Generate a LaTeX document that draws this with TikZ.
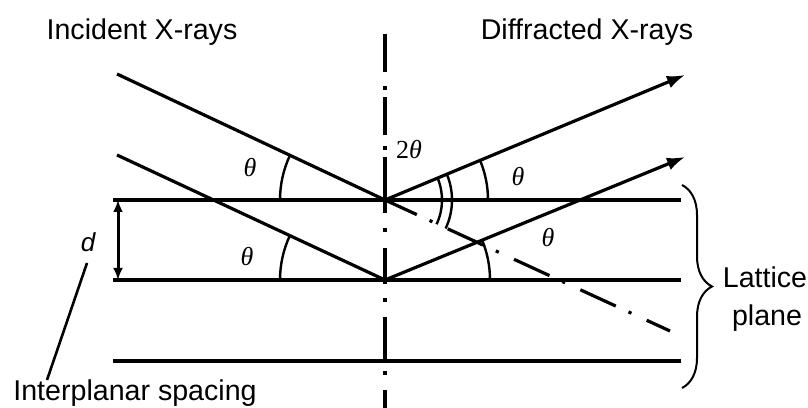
\documentclass[tikz,border=0pt]{standalone}
\usepackage{fontspec}
\setmainfont{Liberation Sans}
\newfontfamily\greekfont{Liberation Serif}
\usetikzlibrary{arrows.meta,decorations.pathreplacing}
\begin{document}
\begin{tikzpicture}[x=0.5bp,y=0.5bp,
  plane/.style={line width=1.6bp},
  ray/.style={line width=1.6bp},
  dray/.style={line width=1.6bp,-{Latex[length=9bp,width=6.5bp]}},
  anglearc/.style={line width=1.2bp},
  axisline/.style={line width=1.7bp,dash pattern=on 19bp off 7.25bp on 1.6bp off 3.65bp on 19bp off 5.75bp on 1.6bp off 3.65bp on 28bp off 7.75bp on 1.6bp off 8.15bp on 18bp off 7.25bp on 1.6bp off 7.65bp on 21.5bp off 5.75bp on 1.6bp off 7.65bp on 12bp},
  extline/.style={line width=1.6bp,dash pattern=on 19.5bp off 7bp on 1.6bp off 8.4bp,dash phase=2bp},
  lbl/.style={font=\fontsize{14.3bp}{16bp}\selectfont,inner sep=0pt},
  ang/.style={font=\fontsize{13bp}{15bp}\selectfont\greekfont\itshape,inner sep=0pt}]
\useasboundingbox (0,0) rectangle (808,408);
% key points
\coordinate (O1) at (385,208);
\coordinate (O2) at (385,128);
\coordinate (P1L) at (113,208); \coordinate (P1R) at (681,208);
\coordinate (P2L) at (113,128); \coordinate (P2R) at (681,128);
\coordinate (P3L) at (113,47);  \coordinate (P3R) at (681,47);
\coordinate (I1) at (117,334);
\coordinate (I2) at (117,253);
\coordinate (D1) at (685,333);
\coordinate (D2) at (685,251);
\coordinate (E) at (670,77);
\coordinate (VT) at (385,374);
\coordinate (VB) at (385,0);
\coordinate (dT) at (118,208);
\coordinate (dB) at (118,128);
\coordinate (BT) at (682,223);
\coordinate (BB) at (682,20);
% lattice planes
\draw[plane] (P1L) -- (P1R);
\draw[plane] (P2L) -- (P2R);
\draw[plane] (P3L) -- (P3R);
% normal axis
\draw[axisline] (VT) -- (VB);
% incident rays
\draw[ray] (I1) -- (O1);
\draw[ray] (I2) -- (O2);
% diffracted rays
\draw[dray] (O1) -- (D1);
\draw[dray] (O2) -- (D2);
% extension of incident ray
\draw[extline] (O1) -- (E);
% angle arcs
\draw[anglearc] (O1) ++(180:105) arc[start angle=180,end angle=154.8,radius=105];
\draw[anglearc] (O2) ++(180:105) arc[start angle=180,end angle=154.9,radius=105];
\draw[anglearc] (O1) ++(0:103) arc[start angle=0,end angle=22.75,radius=103];
\draw[anglearc] (O2) ++(0:105) arc[start angle=0,end angle=22.4,radius=105];
\draw[anglearc] (O1) ++(22.75:57) arc[start angle=22.75,end angle=-25.2,radius=57];
\draw[anglearc] (O1) ++(22.75:67) arc[start angle=22.75,end angle=-25.2,radius=67];
% angle labels
\node[ang] (t1) at (250,240) {θ};
\node[ang] (t2) at (247,151) {θ};
\node[ang] (t3) at (518,231) {θ};
\node[ang] (t4) at (548,170) {θ};
\node[ang] (t2t) at (409,258) {\upshape 2\itshape θ};
% d spacing
\draw[line width=1.5bp,{Latex[length=6bp,width=5bp]}-{Latex[length=6bp,width=5bp]}] (dT) -- (dB);
\node[lbl,font=\fontsize{13bp}{15bp}\selectfont\itshape] (dl) at (88,166) {d};
\node[lbl] (isp) at (135,15) {Interplanar spacing};
\coordinate (dp1) at (87,145);
\coordinate (dp2) at (47,28);
\draw[line width=1.3bp] (dp1) -- (dp2);
% brace
\draw[line width=1bp,decorate,decoration={brace,amplitude=15bp}] (BT) -- (BB);
\node[lbl] (lat) at (765,131) {Lattice};
\node[lbl] (pla) at (767,90) {plane};
% titles
\node[lbl] (inc) at (142,376) {Incident X-rays};
\node[lbl] (dif) at (587,376) {Diffracted X-rays};
\end{tikzpicture}
\end{document}
